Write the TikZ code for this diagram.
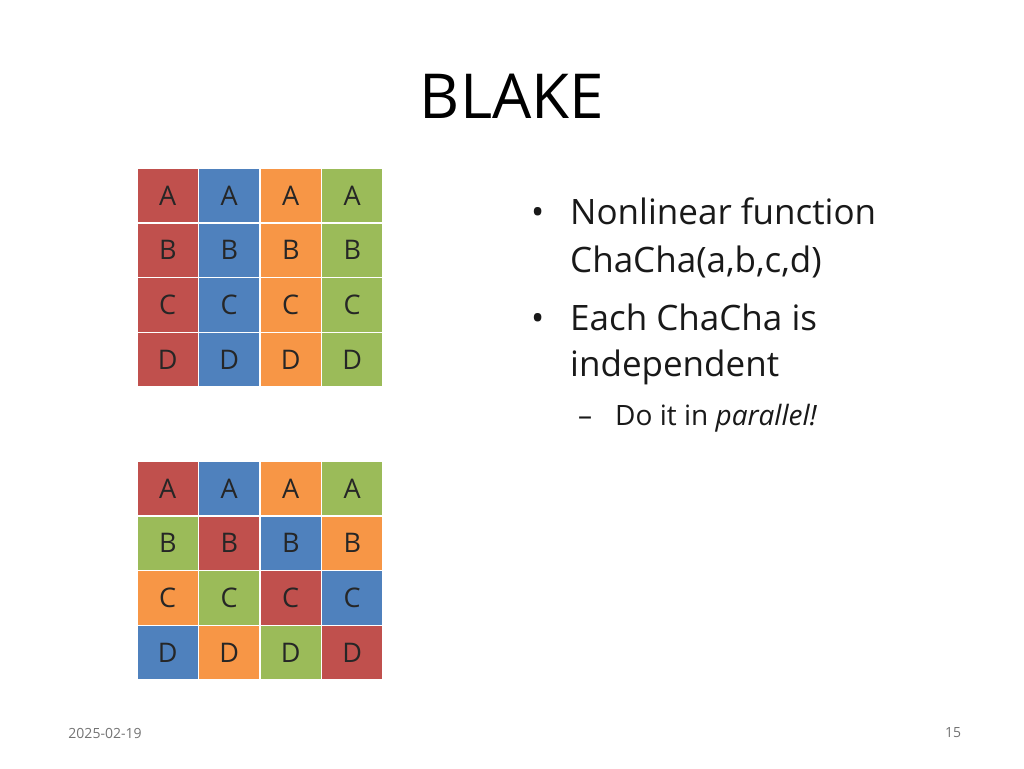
\documentclass[tikz,border=0pt]{standalone}
\usepackage{fontspec}
\setmainfont{Open Sans}
\definecolor{cred}{HTML}{C0504D}
\definecolor{cblue}{HTML}{4F81BD}
\definecolor{corange}{HTML}{F79646}
\definecolor{cgreen}{HTML}{9BBB59}
\tikzset{cell/.style={draw=white, line width=1.5pt, minimum width=61.5pt, minimum height=54.75pt, inner sep=0pt, font=\fontsize{27}{27}\selectfont, text=black!85},
  line/.style={anchor=base west, inner sep=0pt, font=\fontsize{35}{35}\selectfont, text=black!90}}
\begin{document}
\begin{tikzpicture}[x=1pt,y=-1pt]
\useasboundingbox[fill=white] (0,0) rectangle (1024,768);
\node[font=\fontsize{62}{62}\selectfont, anchor=base] (title) at (512,118) {BLAKE};
% upper grid, one colour per column
\foreach \c/\col in {0/cred,1/cblue,2/corange,3/cgreen}
  \foreach \r/\l in {0/A,1/B,2/C,3/D}
    \node[cell, fill=\col] (u\l\c) at ({167.75+61.5*\c},{195.4+54.75*\r}) {\l};
% lower grid, colours shifted along diagonals
\foreach \r/\l/\ca/\cb/\cc/\cd in {0/A/cred/cblue/corange/cgreen,1/B/cgreen/cred/cblue/corange,2/C/corange/cgreen/cred/cblue,3/D/cblue/corange/cgreen/cred}
  \foreach \c/\col in {0/\ca,1/\cb,2/\cc,3/\cd}
    \node[cell, fill=\col] (l\l\c) at ({167.75+61.5*\c},{488.4+54.75*\r}) {\l};
% bullets
\node[line] (b1) at (531,224) {•};
\node[line] (t1) at (570,224) {Nonlinear function};
\node[line] (t2) at (570,272) {ChaCha(a,b,c,d)};
\node[line] (b2) at (531,330) {•};
\node[line] (t3) at (570,330) {Each ChaCha is};
\node[line] (t4) at (570,376) {independent};
\node[line, font=\fontsize{28}{28}\selectfont] (s1) at (578,425) {–};
\node[line, font=\fontsize{28}{28}\selectfont] (t5) at (615,425) {Do it in \textit{parallel!}};
% footer
\node[font=\fontsize{14}{14}\selectfont, text=black!55] (date) at (105,733) {2025-02-19};
\node[font=\fontsize{14}{14}\selectfont, text=black!55] (page) at (953,733) {15};
\end{tikzpicture}
\end{document}
